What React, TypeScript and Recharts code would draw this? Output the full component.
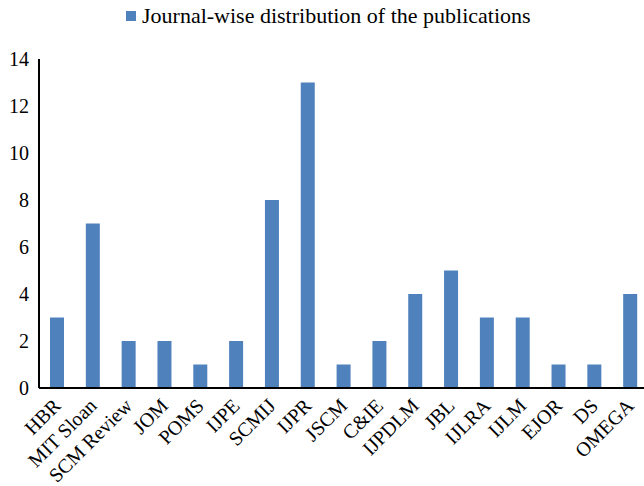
import React from "react";
import { BarChart, Bar, XAxis, YAxis } from "recharts";

// Journal-wise distribution of the publications
const journals = [
  "HBR",
  "MIT Sloan",
  "SCM Review",
  "JOM",
  "POMS",
  "IJPE",
  "SCMIJ",
  "IJPR",
  "JSCM",
  "C&IE",
  "IJPDLM",
  "JBL",
  "IJLRA",
  "IJLM",
  "EJOR",
  "DS",
  "OMEGA",
];
const publications = [3, 7, 2, 2, 1, 2, 8, 13, 1, 2, 4, 5, 3, 3, 1, 1, 4];
const yTicks = [0, 2, 4, 6, 8, 10, 12, 14];
const seriesName = "Journal-wise distribution of the publications";

const BAR_COLOR = "#4F81BD";
const FONT = "'Liberation Serif', 'Times New Roman', serif";

const data = journals.map((name, i) => ({ name, count: publications[i] }));

// rotated category label, anchored at its end like Excel does
function JournalTick({ x, y, payload }: any) {
  const px = x + 5;
  const py = y + 11;
  return (
    <text
      x={px}
      y={py}
      transform={`rotate(-45 ${px} ${py})`}
      textAnchor="end"
      fontSize={20}
      fontFamily={FONT}
      fill="#000"
    >
      {payload.value}
    </text>
  );
}

export default function App() {
  return (
    <div
      style={{
        position: "relative",
        width: 644,
        height: 486,
        overflow: "hidden",
        background: "#fff",
      }}
    >
      <style>{`body { margin: 0; }`}</style>
      {/* legend */}
      <div
        style={{
          position: "absolute",
          left: 126,
          top: 5,
          display: "flex",
          alignItems: "center",
          fontFamily: FONT,
          fontSize: 22,
          lineHeight: "22px",
          color: "#000",
          whiteSpace: "nowrap",
        }}
      >
        <span
          style={{
            display: "inline-block",
            width: 10,
            height: 10,
            background: BAR_COLOR,
            marginRight: 6,
          }}
        />
        <span>{seriesName}</span>
      </div>
      <BarChart
        width={648}
        height={486}
        data={data}
        margin={{ top: 59, right: 0, left: 0, bottom: 0 }}
        barCategoryGap={0}
      >
        <YAxis
          width={39}
          domain={[0, 14]}
          ticks={yTicks}
          interval={0}
          tickLine={false}
          tickMargin={4}
          axisLine={{ stroke: "#000", strokeWidth: 2 }}
          tick={{ fill: "#000", fontSize: 20, fontFamily: FONT }}
        />
        <XAxis
          dataKey="name"
          height={98}
          interval={0}
          tickLine={false}
          axisLine={{ stroke: "#000", strokeWidth: 2 }}
          tick={<JournalTick />}
        />
        <Bar
          dataKey="count"
          name={seriesName}
          fill={BAR_COLOR}
          barSize={14}
          isAnimationActive={false}
        />
      </BarChart>
    </div>
  );
}
